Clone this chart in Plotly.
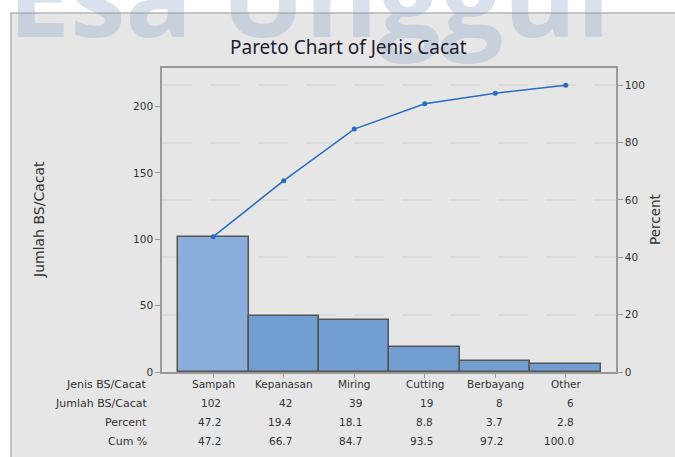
import plotly.graph_objects as go

categories = ["Sampah", "Kepanasan", "Miring", "Cutting", "Berbayang", "Other"]
counts = [102, 42, 39, 19, 8, 6]
percent = [47.2, 19.4, 18.1, 8.8, 3.7, 2.8]
cum_percent = [47.2, 66.7, 84.7, 93.5, 97.2, 100.0]
row_labels = ["Jenis BS/Cacat", "Jumlah BS/Cacat", "Percent", "Cum %"]
left_ticks = [0, 50, 100, 150, 200]
right_ticks = [0, 20, 40, 60, 80, 100]

W, H = 675, 457
L, R, T, B = 162, 616, 68, 372
FONT = "DejaVu Sans"
TFONT = "Noto Sans"
TXT = "#333333"
total = sum(counts)
top_pct = 106.0

xs = list(range(len(categories)))
bar_colors = ["#8aaedc"] + ["#729ed2"] * (len(categories) - 1)

fig = go.Figure()
fig.add_trace(go.Bar(
    x=xs, y=counts, width=1.0,
    marker=dict(color=bar_colors, line=dict(color="#555555", width=1.5)),
    yaxis="y", showlegend=False, hoverinfo="skip",
))
fig.add_trace(go.Scatter(
    x=xs, y=cum_percent, mode="lines+markers",
    line=dict(color="#2a6cc4", width=1.5),
    marker=dict(symbol="circle", size=5, color="#2a6cc4"),
    yaxis="y2", showlegend=False, hoverinfo="skip",
))

def py(p):
    return (B - p) / (B - T)

def px(p):
    return (p - L) / (R - L)

ann = []
# watermark
ann.append(dict(text="<b>Esa Unggul</b>", xref="paper", yref="paper", x=px(6), y=py(72),
                xanchor="left", yanchor="bottom", showarrow=False,
                font=dict(family="Open Sans", size=111, color="rgba(140,165,200,0.33)")))
# row labels
row_y = [384, 403, 422, 441]
for lab, yy in zip(row_labels, row_y):
    ann.append(dict(text=lab, xref="paper", yref="paper", x=px(149), y=py(yy),
                    xanchor="right", yanchor="middle", showarrow=False,
                    font=dict(family=FONT, size=11, color=TXT)))
rows = [
    [str(c) for c in counts],
    [f"{p:.1f}" for p in percent],
    [f"{c:.1f}" for c in cum_percent],
]
for i, cat in enumerate(categories):
    ann.append(dict(text=cat, xref="x", yref="paper", x=i, y=py(row_y[0]),
                    xanchor="center", yanchor="middle", showarrow=False,
                    font=dict(family=FONT, size=10.5, color=TXT)))
    for r, yy in zip(rows, row_y[1:]):
        ann.append(dict(text=r[i], xref="x", yref="paper", x=i, y=py(yy),
                        xanchor="right", yanchor="middle", showarrow=False, xshift=10,
                        font=dict(family=FONT, size=10.5, color=TXT)))
# axis titles
ann.append(dict(text="Jumlah BS/Cacat", xref="paper", yref="paper", x=px(39), y=py(220),
                xanchor="center", yanchor="middle", textangle=-90, showarrow=False,
                font=dict(family=FONT, size=14, color=TXT)))
ann.append(dict(text="Percent", xref="paper", yref="paper", x=px(655), y=py(220),
                xanchor="center", yanchor="middle", textangle=-90, showarrow=False,
                font=dict(family=FONT, size=13.5, color=TXT)))
# title
ann.append(dict(text="Pareto Chart of Jenis Cacat", xref="paper", yref="paper", x=px(348), y=py(47),
                xanchor="center", yanchor="middle", showarrow=False,
                font=dict(family=TFONT, size=19, color="#1c1c30")))

shapes = [
    dict(type="rect", xref="paper", yref="paper", x0=px(11), x1=px(680), y0=py(13), y1=py(470),
         fillcolor="#e6e6e6", line=dict(color="#b5b5b5", width=1.5), layer="below"),
]

fig.update_layout(
    width=W, height=H,
    margin=dict(l=L, r=W - R, t=T, b=H - B, pad=0),
    paper_bgcolor="white", plot_bgcolor="white",
    font=dict(family=FONT, size=10.5, color=TXT),
    annotations=ann, shapes=shapes,
    bargap=0,
    xaxis=dict(range=[-0.727, 5.713], tickvals=xs, showticklabels=False,
               ticks="outside", ticklen=4, tickcolor="#999999",
               showline=True, linecolor="#999999", linewidth=1.5, mirror=True,
               showgrid=False, zeroline=False, fixedrange=True),
    yaxis=dict(range=[0, total * top_pct / 100], tickvals=left_ticks,
               ticks="outside", ticklen=5, tickcolor="#999999",
               showline=True, linecolor="#999999", linewidth=1.5,
               showgrid=False, zeroline=False,
               tickfont=dict(family=FONT, size=10.5, color=TXT)),
    yaxis2=dict(range=[0, top_pct], tickvals=right_ticks, overlaying="y", side="right",
                ticks="outside", ticklen=5, tickcolor="#999999",
                showline=True, linecolor="#999999", linewidth=1.5,
                showgrid=True, gridcolor="#dcdcdc", gridwidth=1.5, griddash="30px,18px",
                zeroline=False, layer="below traces",
                tickfont=dict(family=FONT, size=10.5, color=TXT)),
)
fig.write_html("out.html", config={"displayModeBar": False},
               post_script="document.body.style.margin='0';")
